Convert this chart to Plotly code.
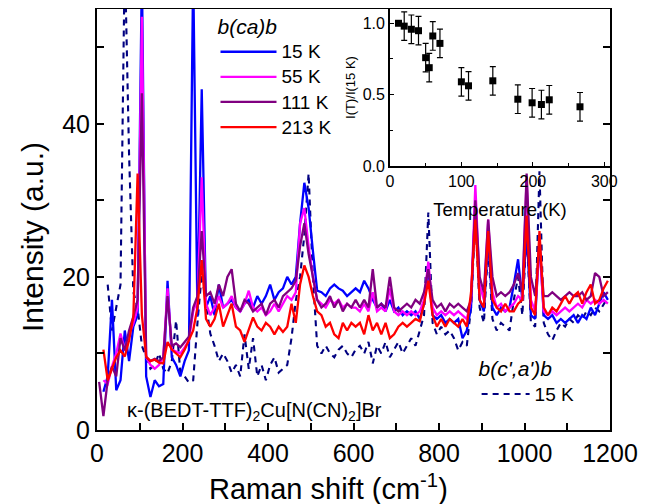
import plotly.graph_objects as go

# ---------------- data ----------------
raman_shift = list(range(5, 1200, 10))  # cm^-1 sampling grid (5 ... 1195)

bcab_15K = [
    None, 5.0, 7.0, 17.0, 5.2, 6.5, 13.0, 9.0, 13.5, 15.0,
    60.0, 7.0, 4.3, 6.5, 5.7, 6.0, 19.5, 9.5, 8.5, 7.0,
    9.0, 10.4, 60.0, 14.8, 44.5, 16.0, 17.5, 15.0, 19.0, 16.0,
    16.5, 17.0, 16.0, 15.5, 16.5, 17.0, 16.0, 17.5, 16.5, 17.5,
    19.0, 17.0, 18.0, 18.5, 20.0, 19.0, 20.0, 27.0, 32.3, 29.0,
    23.4, 18.2, 18.0, 17.5, 18.5, 19.0, 18.5, 18.2, 17.5, 18.0,
    18.5, 18.0, 19.5, 18.5, 17.0, 16.0, 16.5, 15.5, 17.0, 15.5,
    16.0, 15.0, 15.5, 15.0, 15.5, 14.5, 16.5, 21.2, 15.0, 14.5,
    15.0, 14.0, 14.5, 14.0, 14.5, 12.0, 13.0, 16.0, 30.0, 17.0,
    15.5, 25.0, 16.0, 15.0, 16.0, 15.5, 16.0, 19.0, 22.3, 17.0,
    26.0, 15.0, 14.5, 25.0, 15.0, 14.5, 15.0, 14.0, 14.5, 14.0,
    14.5, 15.0, 14.0, 15.0, 14.5, 16.0, 15.0, 16.5, 18.0, 17.0,
]

bcab_55K = [
    None, 6.5, 6.0, 8.3, 10.0, 12.6, 10.4, 12.5, 13.9, 16.0,
    54.0, 9.5, 8.5, 8.0, 8.5, 9.5, 18.5, 10.5, 10.2, 10.0,
    10.8, 11.7, 15.5, 17.0, 33.0, 16.5, 15.0, 16.0, 17.5, 16.0,
    16.5, 17.5, 16.0, 15.5, 16.5, 18.2, 16.0, 15.5, 16.0, 15.0,
    15.5, 16.5, 15.5, 16.5, 17.5, 17.0, 18.0, 27.0, 29.0, 24.0,
    20.0, 17.0, 16.5, 16.0, 17.0, 16.5, 17.0, 16.0, 16.5, 16.0,
    16.0, 15.5, 16.5, 15.5, 18.0, 15.5, 16.0, 15.5, 18.5, 15.5,
    15.0, 15.5, 15.0, 15.5, 15.0, 15.5, 17.0, 22.0, 16.0, 15.0,
    15.5, 15.0, 15.5, 15.0, 15.5, 15.0, 14.5, 17.0, 32.0, 19.0,
    17.0, 27.5, 18.0, 16.0, 16.5, 15.5, 16.0, 16.5, 17.5, 17.0,
    33.0, 17.0, 15.5, 24.0, 15.5, 15.0, 15.5, 15.0, 15.5, 16.0,
    15.5, 16.0, 16.5, 16.0, 17.0, 16.5, 17.0, 16.5, 17.0, 16.5,
]

bcab_111K = [
    6.3, 1.8, 6.5, 8.3, 7.0, 12.0, 10.4, 13.0, 14.8, 17.0,
    44.0, 9.5, 9.0, 9.3, 9.0, 9.5, 17.5, 11.0, 11.3, 10.8,
    11.5, 12.2, 16.0, 17.5, 26.0, 17.5, 18.0, 16.5, 19.0, 17.5,
    20.0, 21.0, 16.5, 15.5, 17.0, 16.5, 15.5, 16.0, 16.5, 15.0,
    16.5, 17.0, 16.0, 17.5, 18.0, 18.5, 19.5, 24.0, 27.0, 23.0,
    20.0, 17.0, 16.0, 16.5, 17.5, 16.0, 17.0, 15.5, 16.5, 16.0,
    17.0, 16.0, 17.0, 16.0, 21.0, 16.0, 16.5, 16.0, 20.0, 16.0,
    15.5, 16.0, 16.5, 16.0, 17.0, 16.5, 18.0, 21.0, 17.0, 16.0,
    16.5, 15.5, 16.5, 16.0, 16.5, 16.0, 15.5, 17.0, 30.0, 20.0,
    18.0, 27.5, 20.0, 17.5, 18.0, 17.5, 18.0, 19.0, 20.5, 18.0,
    33.5, 20.0, 17.5, 24.0, 17.5, 17.5, 18.0, 17.5, 17.0, 17.5,
    18.0, 17.5, 17.5, 18.0, 17.0, 17.5, 20.5, 20.0, 17.5, 18.0,
]

bcab_213K = [
    None, 10.5, 6.5, 8.0, 9.5, 10.4, 9.6, 11.7, 14.8, 33.5,
    15.0, 9.6, 9.0, 9.2, 8.8, 8.7, 11.5, 10.5, 10.0, 9.5,
    10.5, 11.7, 13.0, 16.0, 22.2, 14.5, 13.5, 14.5, 16.5, 13.5,
    15.0, 16.5, 13.5, 13.0, 11.5, 13.0, 14.7, 13.5, 13.0, 14.0,
    13.5, 12.5, 13.5, 12.8, 13.5, 16.5, 14.0, 19.0, 21.5, 20.0,
    17.5, 15.5, 15.0, 13.5, 14.0, 12.5, 12.0, 14.0, 13.0, 14.0,
    13.5, 14.0, 12.5, 15.0, 13.0, 14.0, 12.5, 14.0, 12.0, 12.5,
    13.5, 14.0, 13.5, 14.0, 14.5, 14.2, 16.5, 19.5, 15.0, 13.5,
    14.5, 13.5, 14.5, 14.0, 13.5, 14.5, 13.5, 18.0, 27.5, 17.0,
    16.0, 26.0, 17.0, 16.0, 15.5, 16.5, 15.5, 15.5, 16.5, 17.0,
    28.0, 16.0, 15.0, 26.0, 16.0, 15.0, 16.0, 15.5, 16.5, 17.5,
    16.5, 17.5, 18.0, 16.5, 18.0, 19.0, 16.5, 17.0, 18.5, 19.5,
]

bcab_prime_15K = [
    None, None, 19.0, 13.0, 16.0, 19.0, 62.0, 36.0, 18.0, 16.0,
    11.0, 9.5, 8.0, 8.5, 10.0, 8.0, 7.4, 9.0, 14.3, 7.5,
    7.0, 6.2, 6.5, 14.0, 20.4, 16.5, 12.6, 11.0, 9.0, 10.0,
    9.0, 7.5, 8.5, 7.0, 12.5, 8.0, 12.0, 7.0, 8.5, 6.5,
    8.5, 9.5, 7.5, 8.0, 8.5, 12.0, 16.9, 20.0, 25.5, 33.5,
    20.0, 11.0, 10.0, 11.0, 10.0, 9.5, 10.5, 11.0, 10.0, 9.5,
    10.5, 11.0, 10.0, 11.5, 8.7, 11.0, 10.0, 11.5, 9.5, 10.5,
    11.5, 10.0, 11.0, 12.0, 11.0, 13.0, 15.0, 28.4, 14.0, 12.5,
    13.5, 12.5, 13.0, 12.0, 10.4, 11.5, 11.0, 16.0, 28.0, 16.0,
    14.0, 24.0, 14.5, 13.0, 14.0, 13.5, 13.0, 17.0, 20.0, 15.0,
    26.0, 14.0, 13.5, 33.8, 14.0, 12.5, 11.7, 13.0, 14.0, 13.5,
    14.5, 14.0, 15.0, 14.5, 15.5, 15.0, 16.0, 15.5, 16.5, 17.3,
]

# inset: normalised intensity vs temperature
temperature_K = [12, 20, 30, 40, 50, 55, 60, 70, 100, 110, 144, 179, 199, 212, 223, 266]
intensity_ratio = [1.0, 0.98, 0.958, 0.948, 0.759, 0.689, 0.911, 0.859, 0.59, 0.562,
                   0.597, 0.468, 0.443, 0.431, 0.464, 0.415]
ratio_error = [0.0, 0.1, 0.1, 0.1, 0.1, 0.1, 0.1, 0.1, 0.1, 0.1,
               0.1, 0.1, 0.1, 0.1, 0.1, 0.1]

series_labels = ["15 K", "55 K", "111 K", "213 K"]

main_x_ticks = [0, 200, 400, 600, 800, 1000, 1200]
main_x_minor = [100, 300, 500, 700, 900, 1100]
main_y_ticks = [0, 20, 40]
main_y_minor = [10, 30, 50]
top_x_ticks = [200, 500]
inset_x_ticks = [0, 100, 200, 300]
inset_x_minor = [50, 150, 250]
inset_y_ticks = [0, 0.5, 1.0]
inset_y_labels = ["0.0", "0.5", "1.0"]
inset_y_minor = [0.25, 0.75]

# ---------------- figure ----------------
FONT = "Arial, 'Liberation Sans', sans-serif"
fig = go.Figure()


def big(label):
    return '<span style="font-size:19px">' + label + '</span>'


LW = 2.3
fig.add_trace(go.Scatter(
    x=raman_shift, y=bcab_prime_15K, mode="lines", name=big("15 K"),
    line=dict(color="#000080", width=2.1, dash="6px,5px"),
    legend="legend2", xaxis="x", yaxis="y",
))

colors = ["#0000FF", "#FF00FF", "#800080", "#FF0000"]
for lab, ys, col in zip(series_labels, [bcab_15K, bcab_55K, bcab_111K, bcab_213K], colors):
    fig.add_trace(go.Scatter(
        x=raman_shift, y=ys, mode="lines", name=big(lab),
        line=dict(color=col, width=LW), legend="legend",
        xaxis="x", yaxis="y",
    ))

fig.add_trace(go.Scatter(
    x=temperature_K, y=intensity_ratio, mode="markers",
    marker=dict(symbol="square", size=7, color="black"),
    error_y=dict(type="data", array=ratio_error, visible=True,
                 color="black", thickness=1.2, width=3),
    xaxis="x2", yaxis="y2", showlegend=False,
))

axis_common = dict(showgrid=False, zeroline=False, tickcolor="black",
                   linecolor="black", ticks="inside", automargin=False)

# page has an 8 px body margin: figure is sized so that it ends at the window edge
fig.update_layout(
    width=654, height=496, autosize=False,
    margin=dict(l=89, r=52, t=1, b=74, autoexpand=False),
    paper_bgcolor="white", plot_bgcolor="rgba(0,0,0,0)",
    font=dict(family=FONT, color="black"),
    showlegend=True,
    xaxis=dict(
        **axis_common, domain=[0, 1], range=[0, 1200],
        tickmode="array", tickvals=main_x_ticks,
        ticklen=7, tickwidth=1.5, showline=True, linewidth=2, mirror=True,
        tickfont=dict(size=25),
        minor=dict(tickmode="array", tickvals=main_x_minor, ticks="inside",
                   ticklen=7, tickwidth=1.5, tickcolor="black", showgrid=False),
    ),
    yaxis=dict(
        **axis_common, domain=[0, 1], range=[0, 55],
        tickmode="array", tickvals=main_y_ticks,
        ticklen=7, tickwidth=1.5, showline=True, linewidth=2, mirror="ticks",
        tickfont=dict(size=25),
        minor=dict(tickmode="array", tickvals=main_y_minor, ticks="inside",
                   ticklen=7, tickwidth=1.5, tickcolor="black", showgrid=False),
    ),
    xaxis3=dict(
        **axis_common, overlaying="x", side="top", anchor="y", range=[0, 1200],
        tickmode="array", tickvals=top_x_ticks, ticklen=7, tickwidth=1.5,
        showticklabels=False, showline=False,
    ),
    xaxis2=dict(
        **axis_common, domain=[0.571, 1.0], anchor="y2", range=[0, 308],
        tickmode="array", tickvals=inset_x_ticks,
        ticklen=4, tickwidth=1, showline=True, linewidth=1.5,
        tickfont=dict(size=16),
        minor=dict(tickmode="array", tickvals=inset_x_minor, ticks="inside",
                   ticklen=3, tickwidth=1, tickcolor="black", showgrid=False),
        title=dict(text="Temperature (K)", font=dict(size=18.5), standoff=14),
    ),
    yaxis2=dict(
        **axis_common, domain=[0.627, 1.0], anchor="x2", range=[0, 1.1],
        tickmode="array", tickvals=inset_y_ticks, ticktext=inset_y_labels,
        ticklen=4, tickwidth=1, showline=True, linewidth=1.5,
        tickfont=dict(size=16),
        minor=dict(tickmode="array", tickvals=inset_y_minor, ticks="inside",
                   ticklen=3, tickwidth=1, tickcolor="black", showgrid=False),
        title=dict(text="I(T)/I(15 K)", font=dict(size=13), standoff=4),
    ),
    legend=dict(
        x=0.231, y=1.005, xanchor="left", yanchor="top",
        bgcolor="rgba(0,0,0,0)", borderwidth=0,
        font=dict(size=17), itemwidth=56, tracegroupgap=0,
        title=dict(text="<i>b(ca)b</i>", font=dict(size=21), side="top"),
    ),
    legend2=dict(
        x=0.740, y=0.192, xanchor="left", yanchor="top",
        bgcolor="rgba(0,0,0,0)", borderwidth=0,
        font=dict(size=17), itemwidth=48,
        title=dict(text="<i>b(c',a')b</i>", font=dict(size=21), side="top"),
    ),
    annotations=[
        dict(x=65, y=2.4, xref="x", yref="y", xanchor="left", yanchor="middle",
             text="κ-(BEDT-TTF)<sub>2</sub>Cu[N(CN)<sub>2</sub>]Br",
             showarrow=False, font=dict(size=20)),
        # main axis titles (placed as in the reference, slightly off-centre)
        dict(x=0.452, y=-0.135, xref="paper", yref="paper",
             xanchor="center", yanchor="middle",
             text="Raman shift (cm<sup>-1</sup>)", showarrow=False,
             font=dict(size=29)),
        dict(x=-0.127, y=0.458, xref="paper", yref="paper",
             xanchor="center", yanchor="middle", textangle=-90,
             text="Intensity (a.u.)", showarrow=False,
             font=dict(size=30)),
    ],
)

fig.write_html("out.html")
